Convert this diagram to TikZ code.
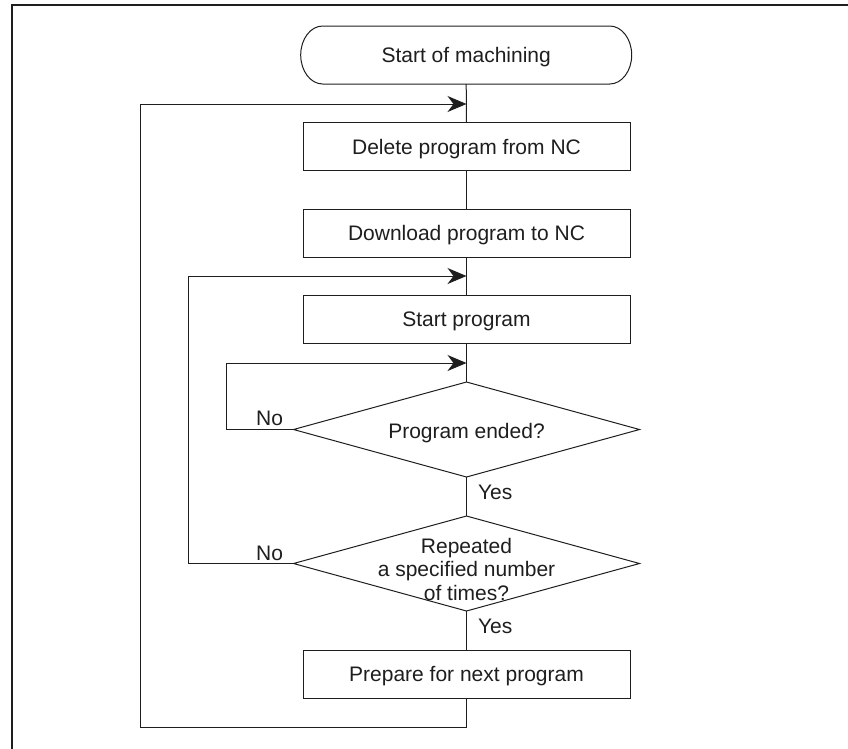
\documentclass[tikz,border=0pt]{standalone}
\usepackage{fontspec}
\setmainfont{Liberation Sans}
\usetikzlibrary{shapes.geometric,arrows.meta}
\definecolor{ink}{HTML}{1E1E1E}
\begin{document}
\begin{tikzpicture}[x=1pt,y=-1pt, color=ink,
  every node/.style={font=\fontsize{21pt}{23.5pt}\selectfont, inner sep=0pt, outer sep=0pt},
  oneline/.style={text depth=0pt},
  procbox/.style={draw, line width=1pt, rectangle, minimum width=327pt, minimum height=48pt, oneline},
  decbox/.style={draw, line width=1pt, diamond, minimum width=346pt, minimum height=95pt},
  flow/.style={line width=1pt},
  loopline/.style={line width=1pt, -{Stealth[length=19pt,width=16pt,inset=6pt]}}
]
\useasboundingbox (0,0) rectangle (848,748);
% frame (only top and left edges visible)
\draw[line width=2pt] (11.7,760) -- (11.7,5.3) -- (860,5.3);

% terminal
\node[oneline, minimum width=331pt, minimum height=58pt] (term) at (466.2,55) {Start of machining};
\draw[line width=1pt] ([xshift=22pt]term.north west) -- ([xshift=-22pt]term.north east)
  arc[start angle=90,end angle=-90,x radius=22pt,y radius=29pt]
  -- ([xshift=22pt]term.south west)
  arc[start angle=270,end angle=90,x radius=22pt,y radius=29pt] -- cycle;

\node[procbox] (del) at (466.5,146.7) {Delete program from NC};
\node[procbox] (dl) at (466.5,233) {Download program to NC};
\node[procbox] (sp) at (466.5,319.5) {Start program};
\node[decbox] (d1) at (466.5,429.5) {};
\node[oneline] (d1t) at (466.5,431) {Program ended?};
\node[decbox] (d2) at (466.5,563.5) {};
\node[align=center] (d2t) at (466.5,569) {Repeated\\a specified number\\of times?};
\node[procbox] (prep) at (466.5,674) {Prepare for next program};

% main flow
\draw[flow] (term.south) -- (del.north);
\draw[flow] (del.south) -- (dl.north);
\draw[flow] (dl.south) -- (sp.north);
\draw[flow] (sp.south) -- (d1.north);
\draw[flow] (d1.south) -- (d2.north);
\draw[flow] (d2.south) -- (prep.north);

% junctions
\coordinate (j1) at (466.5,104);
\coordinate (j2) at (466.5,276);
\coordinate (j3) at (466.5,363);
\coordinate (c1) at (140.7,727);
\coordinate (c2) at (188.3,276);
\coordinate (c3) at (226.7,363);

% loops
\draw[loopline] (prep.south) |- (c1) |- (j1);
\draw[loopline] (d2.west) -| (c2) -- (j2);
\draw[loopline] (d1.west) -| (c3) -- (j3);

% labels
\node[anchor=east] (no1) at (283,418) {No};
\node[anchor=east] (no2) at (283,553) {No};
\node[anchor=west] (yes1) at (478,492) {Yes};
\node[anchor=west] (yes2) at (478,626) {Yes};
\end{tikzpicture}
\end{document}
